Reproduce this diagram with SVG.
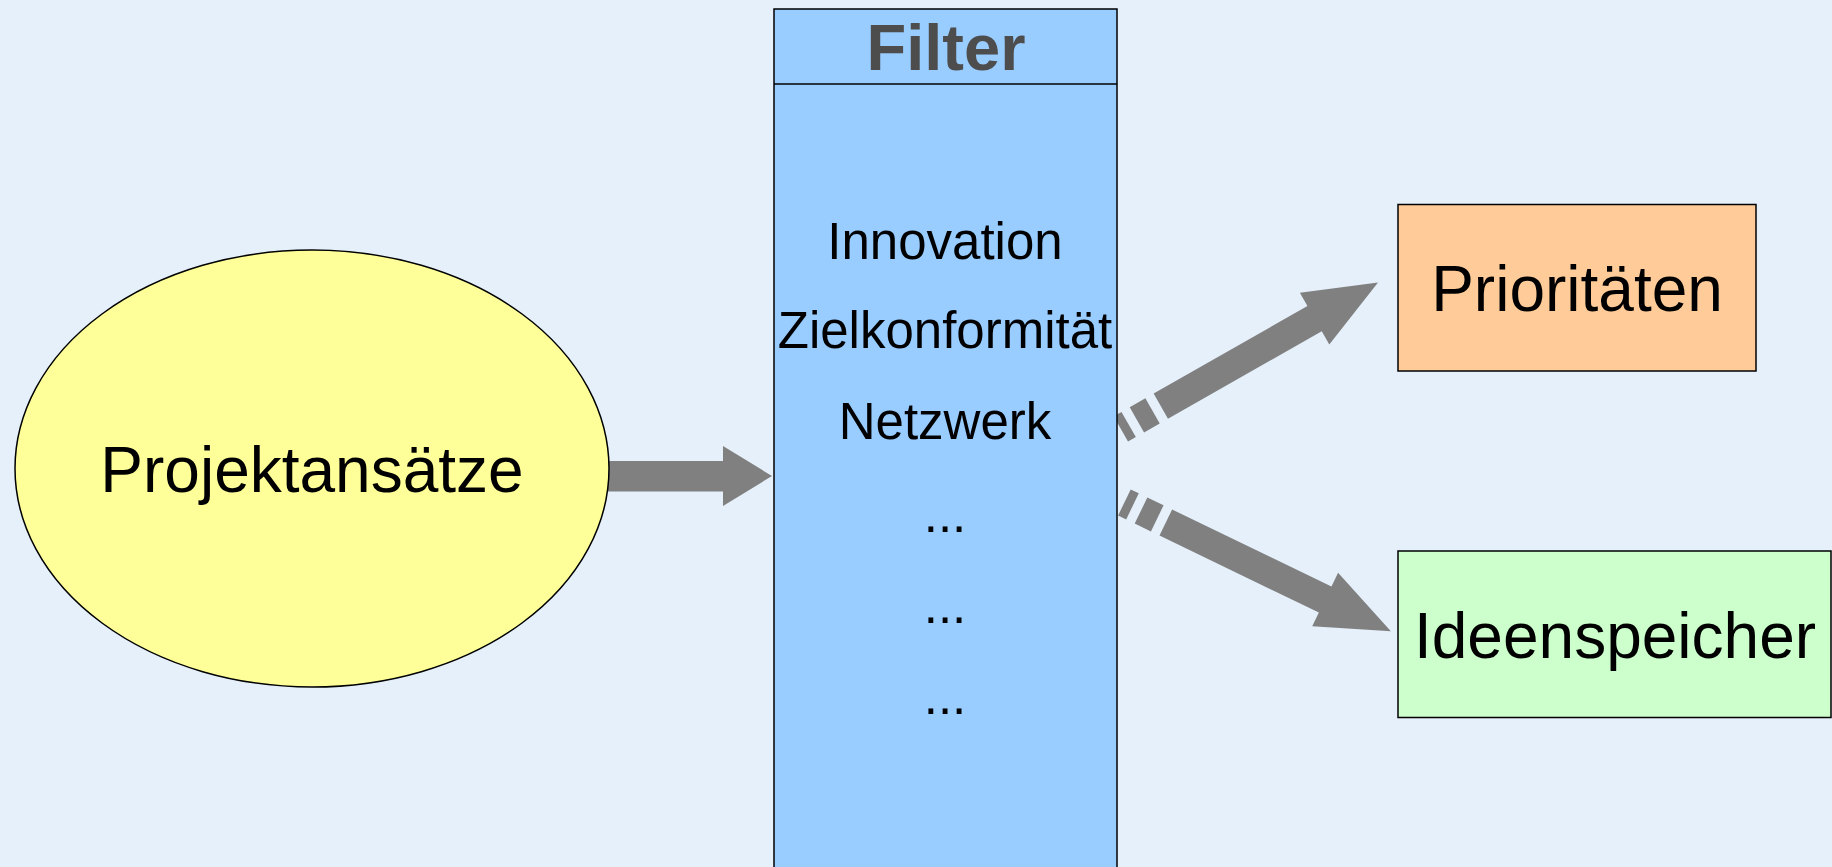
<svg xmlns="http://www.w3.org/2000/svg" xmlns:xlink="http://www.w3.org/1999/xlink" width="1832" height="867" viewBox="0 0 1832 867">
  <style>
    .label { font-family: "Liberation Sans", Arial, sans-serif; fill: #000000; text-anchor: middle; }
    .big { font-size: 64px; }
    .item { font-size: 51px; }
    .title { font-family: "Liberation Sans", Arial, sans-serif; font-weight: bold; font-size: 65px; fill: #4d4d4d; text-anchor: middle; }
    .outline { stroke: #000000; stroke-width: 1.5; }
    .arrow { fill: #808080; }
  </style>
  <defs>
    <!-- striped block arrow pointing along +x, origin at the start of the solid shaft -->
    <g id="striped-arrow" class="arrow">
      <rect x="-46" y="-14.5" width="9" height="29"/>
      <rect x="-27.5" y="-14.5" width="18" height="29"/>
      <path d="M0,-14.5 L177,-14.5 L177,-29.7 L250,0 L177,29.7 L177,14.5 L0,14.5 Z"/>
    </g>
  </defs>

  <rect width="1832" height="867" fill="#e5f0fa"/>

  <g id="connectors">
    <path class="arrow" d="M600,461 L723,461 L723,446 L772,476 L723,506 L723,491.5 L600,491.5 Z"/>
    <use xlink:href="#striped-arrow" href="#striped-arrow" transform="translate(1160.8,406.2) rotate(-29.67)"/>
    <use xlink:href="#striped-arrow" href="#striped-arrow" transform="translate(1165.8,522.5) rotate(25.8)"/>
  </g>

  <g id="projektansaetze">
    <ellipse class="outline" cx="312" cy="468.5" rx="297" ry="218.5" fill="#ffff99"/>
    <text class="label big" x="312" y="492">Projektansätze</text>
  </g>

  <g id="filter">
    <rect class="outline" x="774" y="9" width="343" height="880" fill="#99ccff"/>
    <line class="outline" x1="774" y1="84" x2="1117" y2="84"/>
    <text class="title" x="946" y="70">Filter</text>
    <text class="label item" x="945" y="259">Innovation</text>
    <text class="label item" x="945" y="348">Zielkonformität</text>
    <text class="label item" x="945" y="439">Netzwerk</text>
    <text class="label item" x="945" y="532">...</text>
    <text class="label item" x="945" y="623">...</text>
    <text class="label item" x="945" y="714">...</text>
  </g>

  <g id="prioritaeten">
    <rect class="outline" x="1398" y="204.5" width="358" height="166.5" fill="#ffcc99"/>
    <text class="label big" x="1577" y="311">Prioritäten</text>
  </g>

  <g id="ideenspeicher">
    <rect class="outline" x="1398" y="551" width="433" height="166.5" fill="#ccffcc"/>
    <text class="label big" x="1615" y="658">Ideenspeicher</text>
  </g>
</svg>
